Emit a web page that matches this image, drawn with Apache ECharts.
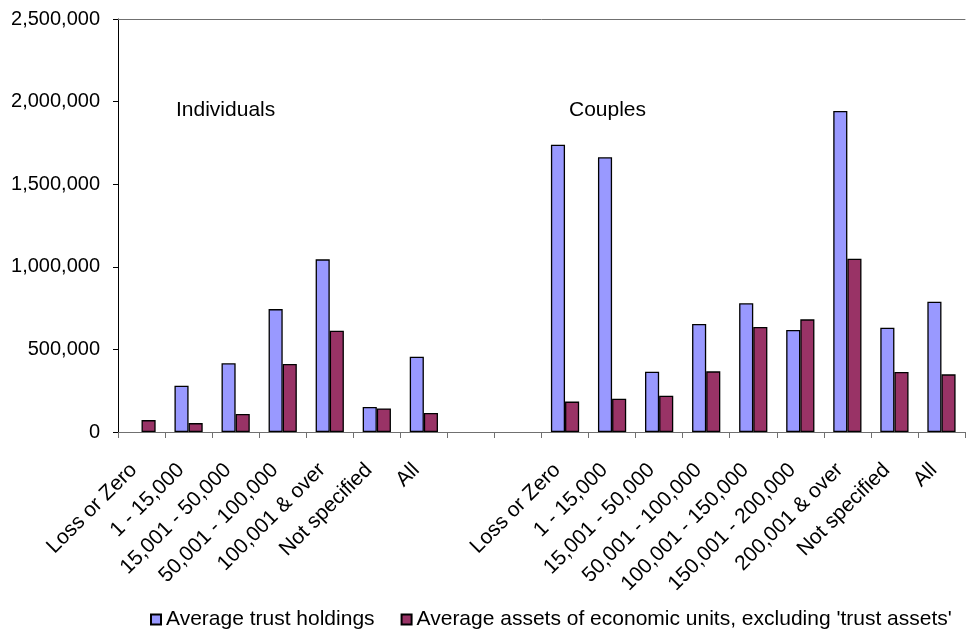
<!DOCTYPE html>
<html>
<head>
<meta charset="utf-8">
<script src="https://cdn.jsdelivr.net/npm/echarts@6/dist/echarts.min.js"></script>
<style>
	html, body { margin: 0; padding: 0; background: #fff; }
	#chart { width: 966px; height: 632px; }
</style>
</head>
<body>
<div id="chart"></div>
<script>
// categories: individuals, two empty slots, then couples
const individualCats = ['Loss or Zero', '1 - 15,000', '15,001 - 50,000', '50,001 - 100,000', '100,001 & over', 'Not specified', 'All']
const gapCats = [' ', '  ']
const coupleCats = ['Loss or Zero', '1 - 15,000', '15,001 - 50,000', '50,001 - 100,000', '100,001 - 150,000', '150,001 - 200,000', '200,001 & over', 'Not specified', 'All']

const indTrust = [null, 280000, 416000, 744000, 1045000, 151000, 456000]
const indAssets = [72000, 54000, 109000, 412000, 613000, 143000, 115000]
const coupleTrust = [1739000, 1663000, 365000, 654000, 779000, 617000, 1943000, 631000, 789000]
const coupleAssets = [184000, 202000, 220000, 367000, 636000, 682000, 1049000, 363000, 349000]
const gapValues = [null, null]

const yTicks = { min: 0, max: 2500000, interval: 500000 }

const categories = individualCats.concat(gapCats, coupleCats)
const trust = indTrust.concat(gapValues, coupleTrust)
const assets = indAssets.concat(gapValues, coupleAssets)

const font = "'Liberation Sans', Arial, sans-serif"

const chart = echarts.init(document.getElementById('chart'))
chart.setOption({
	animation: false,
	textStyle: { fontFamily: font, color: '#000' },
	grid: { left: 118, right: 1, top: 19, bottom: 200, containLabel: false },
	legend: {
		left: 145,
		top: 604,
		itemWidth: 10,
		itemHeight: 10,
		itemGap: 26,
		icon: 'rect',
		textStyle: { fontSize: 21, fontFamily: font, color: '#000' },
		data: ['Average trust holdings', "Average assets of economic units, excluding 'trust assets'"]
	},
	graphic: [
		{ type: 'text', left: 176, top: 100, style: { text: 'Individuals', font: '21px ' + font, fill: '#000' } },
		{ type: 'text', left: 569, top: 100, style: { text: 'Couples', font: '21px ' + font, fill: '#000' } }
	],
	xAxis: [{
		type: 'category',
		data: categories,
		axisLine: { lineStyle: { color: '#707070', width: 1 } },
		axisTick: { show: true, interval: 0, length: 6, alignWithLabel: false, lineStyle: { color: '#707070' } },
		axisLabel: { interval: 0, rotate: 45, margin: 27, padding: [0, 11, 0, 0], fontSize: 21, color: '#000', fontFamily: font }
	}, {
		type: 'category',
		position: 'top',
		data: categories,
		axisLine: { show: true, lineStyle: { color: '#707070', width: 1 } },
		axisTick: { show: false },
		axisLabel: { show: false }
	}],
	yAxis: {
		type: 'value',
		min: yTicks.min,
		max: yTicks.max,
		interval: yTicks.interval,
		axisLine: { show: true, lineStyle: { color: '#000', width: 1 } },
		axisTick: { show: true, length: 5, lineStyle: { color: '#000' } },
		splitLine: { show: false },
		axisLabel: {
			fontSize: 20,
			color: '#000',
			fontFamily: font,
			margin: 18,
			formatter: v => v.toLocaleString('en-US')
		}
	},
	series: [{
		name: 'Average trust holdings',
		type: 'bar',
		data: trust,
		barGap: '0%',
		barCategoryGap: '40%',
		itemStyle: { color: '#9999FF', borderColor: '#000', borderWidth: 1.3 }
	}, {
		name: "Average assets of economic units, excluding 'trust assets'",
		type: 'bar',
		data: assets,
		itemStyle: { color: '#993366', borderColor: '#000', borderWidth: 1.3 }
	}]
})
</script>
</body>
</html>
